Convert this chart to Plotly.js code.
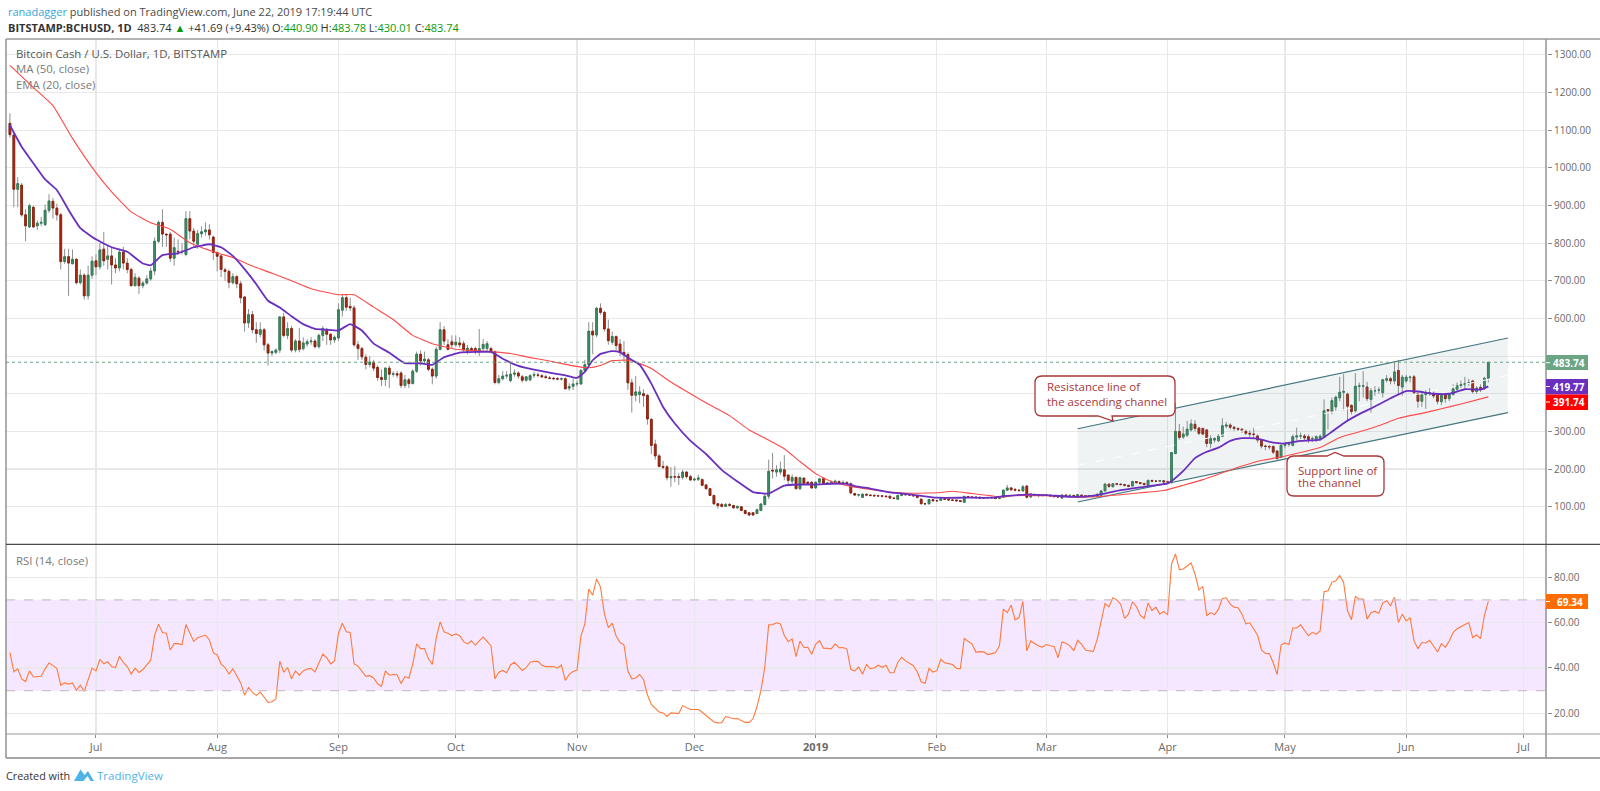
<!DOCTYPE html>
<html><head><meta charset="utf-8">
<script src="https://cdn.plot.ly/plotly-3.0.1.min.js"></script>
<style>html,body{margin:0;padding:0;background:#fff}#c{width:1600px;height:791px}</style>
</head><body><div id="c"></div>
<script>
const firstDay = '2018-06-09';
const opens = [
1118,1087,943,954,875,843,895,846,853,849,887,911,893,875,751,764,745,757,695,715,660,715,
753,737,784,757,766,742,734,776,747,730,687,707,687,694,705,726,805,855,824,824,760,778,777,770,865,832,797,825,830,835,816,
775,766,729,725,695,711,692,657,588,610,570,558,570,530,508,510,516,604,555,573,516,540,520,532,538,540,525,555,570,558,543,
548,622,655,632,628,530,520,497,478,484,470,443,438,468,452,453,455,422,437,427,460,505,487,490,465,447,518,570,530,538,
530,535,533,510,520,520,511,520,520,520,512,430,440,447,435,452,455,445,436,437,449,450,448,445,442,441,440,439,440,415,420,
426,426,462,477,566,556,627,616,572,537,552,532,510,504,429,396,398,400,396,332,266,235,207,206,177,180,180,178,192,180,
171,173,172,158,148,130,108,106,101,106,103,97,100,90,84,84,82,90,106,128,197,192,192,198,184,168,178,148,176,165,165,
150,165,174,162,163,163,167,163,164,161,135,131,125,133,131,130,129,129,128,128,123,120,130,133,132,131,129,120,108,108,119,
116,117,121,120,118,118,116,112,127,126,125,125,123,124,124,124,122,125,144,150,146,144,142,155,126,132,131,130,
130,131,129,127,123,131,129,130,125,131,129,128,129,127,130,142,160,153,161,160,159,157,155,167,164,162,157,170,168,168,169,
166,164,241,300,285,290,304,319,309,308,304,268,277,275,287,314,317,311,308,306,300,295,293,288,277,261,260,260,248,231,
263,266,263,285,288,288,286,280,279,281,284,358,353,365,389,404,399,369,355,420,420,418,385,408,410,403,436,440,434,462,418,
434,443,445,400,380,398,400,401,396,379,398,387,398,412,422,424,428,434,406,417,415,441];
const highs = [
1145,1090,975,960,890,905,900,860,870,903,930,920,905,880,785,785,783,760,730,720,740,765,
770,800,830,795,790,760,785,790,760,735,720,712,700,715,735,815,860,890,825,830,815,810,800,885,885,840,835,845,855,850,820,
778,770,735,730,720,715,700,660,625,620,590,590,575,535,515,520,605,615,590,580,545,575,550,545,550,545,560,580,575,560,555,
640,665,665,655,635,540,525,505,500,490,475,465,470,475,460,460,460,450,442,465,512,515,512,495,470,525,590,580,545,555,
555,550,540,530,525,525,572,545,540,525,515,450,460,460,485,465,460,450,445,452,458,456,452,450,447,445,444,443,443,428,440,
435,465,490,590,590,630,640,620,597,565,555,545,540,510,440,447,420,412,398,335,278,240,222,210,205,208,190,198,195,185,
178,185,175,160,150,132,110,110,110,110,105,103,102,92,85,86,95,110,135,225,243,210,220,237,186,186,180,180,178,168,168,
167,176,178,166,170,172,170,170,168,165,137,134,136,135,134,133,131,131,130,129,125,132,135,135,134,134,130,122,111,121,121,
119,123,122,122,120,119,117,130,129,128,128,127,126,126,127,126,126,146,158,152,150,146,158,158,136,135,134,133,
133,132,130,128,133,133,133,132,134,132,131,131,130,135,144,163,161,163,163,162,161,158,169,168,165,163,172,171,170,171,170,
169,245,375,320,313,328,332,330,312,310,306,290,285,293,335,325,322,315,310,308,305,303,310,292,280,265,265,263,250,265,
270,272,292,310,297,293,292,287,290,292,385,357,390,395,445,452,403,372,455,430,460,432,415,420,418,440,450,445,485,490,450,
450,448,450,403,405,410,415,407,400,400,402,402,425,430,435,445,440,437,420,425,445,484];
const lows = [
1080,895,895,870,805,840,840,835,845,845,880,865,860,730,745,660,745,690,690,650,650,705,
715,730,740,730,690,720,725,730,720,685,685,665,680,690,700,715,800,790,790,750,740,770,770,765,810,790,785,815,820,810,755,
725,710,700,680,690,680,640,565,575,560,535,550,515,475,500,505,508,550,545,510,510,510,515,525,530,520,520,540,530,530,535,
540,605,620,620,525,490,490,465,470,460,435,420,420,415,445,442,415,415,415,425,455,475,480,460,425,440,515,530,515,520,
525,522,510,505,510,505,500,515,512,510,425,425,435,440,430,445,440,430,432,433,442,444,442,440,438,436,436,435,435,408,410,
420,424,460,475,505,550,610,565,530,530,515,500,485,410,350,380,375,365,318,240,225,205,200,170,153,165,158,172,175,168,
168,168,155,145,128,105,95,98,99,100,95,95,88,80,76,76,80,88,103,120,175,180,185,170,160,160,146,145,160,158,148,
148,160,160,158,160,160,160,160,160,133,128,127,124,128,127,127,126,125,124,121,120,118,128,129,128,127,122,106,104,106,113,
113,115,118,116,115,113,112,110,124,123,122,121,121,122,122,120,120,124,142,142,141,140,140,122,124,128,125,127,
128,127,124,123,122,127,127,126,124,127,126,127,126,126,129,141,150,152,157,156,154,152,154,161,159,156,156,165,165,166,163,
162,162,240,278,280,285,300,300,290,290,258,255,270,272,285,308,305,302,300,296,290,285,282,270,255,250,252,240,225,230,
255,260,260,275,280,275,270,272,272,275,282,305,345,355,380,355,330,345,350,380,390,380,350,395,400,390,430,425,425,400,395,
428,430,398,363,365,360,395,388,372,370,376,380,395,408,415,412,420,400,400,405,410,430];
const closes = [
1088,943,958,875,846,899,843,853,855,887,912,893,875,751,764,747,757,695,715,660,715,752,
737,782,753,766,742,734,776,747,730,687,709,687,694,705,726,805,855,824,822,760,788,777,778,865,832,805,825,830,835,822,775,
765,730,725,696,711,692,655,588,610,570,560,570,530,508,512,516,604,555,573,516,540,518,535,538,540,525,555,573,558,543,550,
623,655,630,628,530,520,498,478,484,468,443,438,468,452,453,450,422,437,427,460,505,487,492,465,447,518,570,540,518,530,
537,530,517,521,516,511,520,531,533,512,430,440,447,449,452,455,447,436,445,448,451,449,445,443,441,440,439,440,413,419,426,
427,462,477,566,556,627,616,572,541,552,528,510,504,429,396,405,405,395,333,263,235,207,205,177,180,179,178,192,180,171,
173,176,157,148,130,108,103,101,106,104,97,101,90,82,78,78,92,107,128,194,195,198,200,181,170,178,148,177,162,161,150,
165,174,162,163,165,168,163,164,163,137,131,132,133,131,130,129,129,128,127,123,122,130,133,132,131,129,125,108,108,119,116,
116,121,120,118,117,116,114,127,126,125,125,123,124,124,124,122,124,144,150,145,144,143,153,125,134,131,130,130,
131,129,127,126,131,129,130,128,132,129,128,129,128,133,142,160,154,161,160,159,157,154,167,164,162,159,170,168,168,169,166,
166,244,300,284,293,306,320,308,295,293,268,281,281,288,315,317,311,308,306,302,295,293,292,277,261,260,259,245,228,263,
266,267,286,288,288,283,278,281,286,287,355,355,382,391,404,406,367,353,420,421,421,387,408,408,410,437,440,434,458,422,444,
444,444,403,380,397,400,403,394,380,396,387,398,413,422,424,427,429,406,415,411,441,483.74];

const maDates = ['2018-06-09','2018-06-15','2018-06-20','2018-06-25','2018-07-01','2018-07-05','2018-07-10','2018-07-15','2018-07-20','2018-07-25','2018-08-01','2018-08-05','2018-08-10','2018-08-15','2018-08-20','2018-08-25','2018-09-01','2018-09-05','2018-09-10','2018-09-15','2018-09-20','2018-09-25','2018-10-01','2018-10-05','2018-10-10','2018-10-15','2018-10-20','2018-10-25','2018-10-31','2018-11-04','2018-11-07','2018-11-10','2018-11-14','2018-11-17','2018-11-20','2018-11-25','2018-11-30','2018-12-05','2018-12-10','2018-12-15','2018-12-20','2018-12-24','2018-12-28','2019-01-01','2019-01-05','2019-01-10','2019-01-15','2019-01-20','2019-01-25','2019-02-01','2019-02-05','2019-02-10','2019-02-15','2019-02-18','2019-02-20','2019-03-01','2019-03-10','2019-03-15','2019-03-20','2019-03-25','2019-03-31','2019-04-05','2019-04-10','2019-04-15','2019-04-20','2019-04-25','2019-04-30','2019-05-05','2019-05-10','2019-05-15','2019-05-20','2019-05-25','2019-05-30','2019-06-05','2019-06-10','2019-06-15','2019-06-22'];
const maValues = [1272,1213,1165,1078,987,936,883,854,837,801,774,762,739,720,700,679,663,663,630,597,555,533,518,515,512,507,496,487,474,469,475,488,489,480,467,431,400,370,342,304,277,254,220,188,167,154,146,139,136,137,141,135,129,126,129,129,125,127,132,137,143,157,172,190,208,223,232,244,257,284,299,315,335,348,360,373,391.74];
const emaDates = ['2018-06-09','2018-06-12','2018-06-15','2018-06-18','2018-06-21','2018-06-24','2018-06-27','2018-07-01','2018-07-05','2018-07-09','2018-07-13','2018-07-15','2018-07-18','2018-07-22','2018-07-26','2018-07-30','2018-08-02','2018-08-05','2018-08-08','2018-08-11','2018-08-14','2018-08-17','2018-08-20','2018-08-23','2018-08-26','2018-08-29','2018-09-01','2018-09-04','2018-09-07','2018-09-10','2018-09-14','2018-09-18','2018-09-22','2018-09-25','2018-09-28','2018-10-02','2018-10-06','2018-10-10','2018-10-13','2018-10-17','2018-10-21','2018-10-25','2018-10-29','2018-11-01','2018-11-03','2018-11-05','2018-11-07','2018-11-10','2018-11-12','2018-11-14','2018-11-17','2018-11-20','2018-11-23','2018-11-26','2018-11-30','2018-12-04','2018-12-08','2018-12-12','2018-12-16','2018-12-20','2018-12-24','2018-12-28','2019-01-01','2019-01-05','2019-01-09','2019-01-11','2019-01-15','2019-01-20','2019-01-25','2019-02-01','2019-02-08','2019-02-15','2019-02-18','2019-02-24','2019-03-01','2019-03-08','2019-03-14','2019-03-20','2019-03-26','2019-04-01','2019-04-02','2019-04-05','2019-04-08','2019-04-11','2019-04-14','2019-04-17','2019-04-20','2019-04-24','2019-04-28','2019-05-01','2019-05-05','2019-05-10','2019-05-13','2019-05-16','2019-05-20','2019-05-24','2019-05-28','2019-06-01','2019-06-04','2019-06-08','2019-06-12','2019-06-16','2019-06-20','2019-06-22'];
const emaValues = [1113,1056,1012,969,941,888,840,810,789,777,746,741,768,773,789,797,789,766,731,691,647,629,606,585,572,570,568,585,568,533,509,481,481,477,497,509,511,511,493,474,464,456,449,442,458,489,506,513,510,496,477,427,365,321,275,240,198,167,139,135,156,159,159,161,161,155,148,138,133,124,124,124,128,132,131,126,131,144,153,162,168,195,229,246,257,275,282,281,270,268,275,278,299,322,346,366,388,407,406,400,400,412,411,419.77];
const rsiValues = [
46.7,38.3,39.6,35.2,34,38.7,36,36.2,36.3,39.6,42.2,41,39.8,32.4,33.4,32.9,33.4,30.2,32.4,29.7,35.2,39.9,
38.7,43.8,41.8,42.7,40.6,40.2,45.1,42.4,40.6,37.3,39.9,38,39.3,41.2,43.4,54.4,59.3,55.6,55.3,47.9,50.7,50.7,50.2,59.1,55.6,51.7,53.3,53.8,54.5,52.3,46.7,
45.7,41.7,40.2,37.3,39.6,36.6,33.4,28,31.4,29.2,27.9,29.4,27,24.8,25.1,26.3,43,38.1,40.2,35.2,38.7,36.8,38.7,39.5,39.8,38.3,42.2,46.1,44.5,41.8,43.1,
55.3,59.7,55.9,55.6,41.8,40.8,38.4,36.3,36.6,35.6,33,31.9,38.7,36.8,37.1,37,33.1,36.2,35.5,41.8,50.6,48.5,48.5,44,41.5,53.3,60.3,55.9,55.3,54.2,
55,54.2,51.6,50.6,52,50,51.9,53.6,51.7,49.8,35.2,38.1,38.9,37.9,41.3,42.5,40.7,38.9,40.1,42.5,42.9,42.9,41.2,40.6,40.6,40.6,39.9,41.3,34.5,37.2,38.4,
39.1,54.1,59.3,74.8,72.1,79.2,75.6,63.8,57.8,59.7,54.1,51.2,50.2,38.6,35.2,35.6,37.1,34.9,28.2,23.9,22.1,20.6,20.2,18.6,20.2,20,19.9,23.4,22.4,21.7,
21.7,21.7,20.5,19,17.6,16.2,15.8,15.9,18.6,18.1,17.6,17.7,16.7,16,16,17.6,22.9,29.9,40.2,59,59.1,59.9,59.4,54.3,51.6,52.8,45,51.8,49,49.1,46,
50.4,52,48.7,48.6,48.4,50.6,48.9,49,48.3,39.4,38.7,40.4,37.2,41.5,39.7,40,41.2,40.3,41.2,37.9,37.9,42.4,44.7,43.1,42.1,41,38.2,33.8,33.2,39.8,38.2,
38.8,43.8,42.3,41.9,41.5,39.8,39.7,53,51.9,50.5,46.9,47.2,47.1,45.9,46.3,46.8,49.7,65.9,64.4,67.7,61.2,62.2,69.3,47.5,51.9,50.9,49.7,49.2,
50.3,49.8,49.4,44.5,51.4,50.9,49.7,47.6,52.2,50.4,47.9,47.5,47.3,52.6,60,68.4,66.9,70.9,70,68.1,61.8,63.7,69.1,67.1,63.2,61.8,68.6,65.3,66.8,63.7,64.9,
63.4,85.8,90.2,83.3,83.6,84.9,86.3,81.4,74.3,75.9,63,64.4,63.4,65.9,70.6,70.9,68.1,66.8,66.5,63.7,59.4,59.9,57,54.4,47.9,46.4,46.3,42.3,37.1,50.1,
51,50.3,57.6,57.6,59,56.6,54.2,55.7,54.8,56.3,73.6,74,77.7,78.4,80.7,77.7,65.2,61.2,71.5,70.3,70.3,61.5,64.4,64.9,64.1,68.6,69.6,67.4,71.1,60,63.7,
60.7,62.2,51.9,48.5,51.2,51,52.2,49.7,47,50.7,49.1,51.9,55.6,57.3,58.2,59.1,60,53.4,54.5,52.9,63.2,69.34];

const channelDates = ['2019-03-09','2019-06-27'];
const channelUpper = [307,548];
const channelLower = [112.5,350];
const channelMiddle = [209.75,449];
const priceTicks = [100,200,300,400,500,600,700,800,900,1000,1100,1200,1300];
const priceLabels = ['100.00','200.00','300.00','','','600.00','700.00','800.00','900.00','1000.00','1100.00','1200.00','1300.00'];
const rsiTicks = [20,40,60,80];
const rsiLabels = ['20.00','40.00','60.00','80.00'];
const monthTicks = ['2018-07-01','2018-08-01','2018-09-01','2018-10-01','2018-11-01','2018-12-01','2019-01-01','2019-02-01','2019-03-01','2019-04-01','2019-05-01','2019-06-01','2019-07-01'];
const monthLabels = ['Jul','Aug','Sep','Oct','Nov','Dec','<b>2019</b>','Feb','Mar','Apr','May','Jun','Jul'];

const days = closes.map((_, i) => new Date(Date.parse(firstDay) + i * 864e5).toISOString().slice(0, 10));
const F = '"Open Sans", sans-serif';
const px = X => (X - 6) / 1541, py = Y => (734 - Y) / 695;
const up = '#3f9068', upEdge = '#2b7a52', dn = '#b3280e', dnEdge = '#8e1c08', wick = '#8f8f8f';

const traces = [
 {type:'scatter',mode:'lines',x:[channelDates[0],channelDates[1],channelDates[1],channelDates[0]],y:[channelUpper[0],channelUpper[1],channelLower[1],channelLower[0]],fill:'toself',fillcolor:'rgba(120,144,156,0.11)',line:{width:0},hoverinfo:'skip',xaxis:'x',yaxis:'y'},
 {type:'scatter',mode:'lines',x:channelDates,y:channelMiddle,line:{color:'#ffffff',width:1,dash:'dash'},xaxis:'x',yaxis:'y'},
 {type:'scatter',mode:'lines',x:channelDates,y:channelUpper,line:{color:'#43777f',width:1.2},xaxis:'x',yaxis:'y'},
 {type:'scatter',mode:'lines',x:channelDates,y:channelLower,line:{color:'#43777f',width:1.2},xaxis:'x',yaxis:'y'},
 {type:'candlestick',x:days,open:opens,high:highs,low:lows,close:closes,whiskerwidth:0,
  increasing:{line:{color:wick,width:1},fillcolor:up},decreasing:{line:{color:wick,width:1},fillcolor:dn},xaxis:'x',yaxis:'y'},
 {type:'candlestick',x:days,open:opens,close:closes,
  high:opens.map((o,i)=>Math.max(o,closes[i])),low:opens.map((o,i)=>Math.min(o,closes[i])),whiskerwidth:0,
  increasing:{line:{color:upEdge,width:0.8},fillcolor:up},decreasing:{line:{color:dnEdge,width:0.8},fillcolor:dn},xaxis:'x',yaxis:'y'},
 {type:'scatter',mode:'lines',x:maDates,y:maValues,line:{color:'#ff4a4a',width:1.1,shape:'spline',smoothing:0.4},xaxis:'x',yaxis:'y'},
 {type:'scatter',mode:'lines',x:emaDates,y:emaValues,line:{color:'#6a2fbf',width:1.8,shape:'spline',smoothing:0.4},xaxis:'x',yaxis:'y'},
 {type:'scatter',mode:'lines',x:days,y:rsiValues,line:{color:'#ff7a3c',width:1.1},xaxis:'x',yaxis:'y2'}
];

const seg = (x0,y0,x1,y1,color,width,dash) => ({type:'line',xref:'paper',yref:'paper',x0:px(x0),y0:py(y0),x1:px(x1),y1:py(y1),line:{color,width:width||1,dash:dash||'solid'}});
const box = (x0,y0,x1,y1,color) => ({type:'rect',xref:'paper',yref:'paper',x0:px(x0),y0:py(y0),x1:px(x1),y1:py(y1),fillcolor:color,line:{width:0}});
function callout(L,T,R,B,r,tail){
 const P=(X,Y)=>px(X)+','+py(Y);
 let d='M'+P(L+r,T);
 if(tail.side==='top') d+=' L'+P(tail.a,T)+' L'+P(tail.x,tail.y)+' L'+P(tail.b,T);
 d+=' L'+P(R-r,T)+' Q'+P(R,T)+' '+P(R,T+r)+' L'+P(R,B-r)+' Q'+P(R,B)+' '+P(R-r,B);
 if(tail.side==='bottom') d+=' L'+P(tail.b,B)+' L'+P(tail.x,tail.y)+' L'+P(tail.a,B);
 d+=' L'+P(L+r,B)+' Q'+P(L,B)+' '+P(L,B-r)+' L'+P(L,T+r)+' Q'+P(L,T)+' '+P(L+r,T)+' Z';
 return {type:'path',xref:'paper',yref:'paper',path:d,fillcolor:'#ffffff',line:{color:'#a8383a',width:1.3}};
}
const P2=(X,Y)=>px(X)+','+py(Y);
const logo = {type:'path',xref:'paper',yref:'paper',fillcolor:'#4fb3e8',line:{width:0},
 path:'M'+P2(74,781)+' L'+P2(80.5,769.5)+' L'+P2(84.5,775)+' L'+P2(88,771)+' L'+P2(94,781)+' L'+P2(90.5,781)+' L'+P2(87.5,776)+' L'+P2(83.5,781)+' Z'};
const shapes = [
 {type:'rect',xref:'paper',yref:'y2',x0:0,x1:1,y0:30,y1:70,fillcolor:'rgba(153,21,255,0.10)',line:{width:0},layer:'below'},
 {type:'line',xref:'paper',yref:'y2',x0:0,x1:1,y0:70,y1:70,line:{color:'#c9c2cc',width:1.2,dash:'dash'}},
 {type:'line',xref:'paper',yref:'y2',x0:0,x1:1,y0:30,y1:30,line:{color:'#c9c2cc',width:1.2,dash:'dash'}},
 {type:'line',xref:'paper',yref:'y',x0:0,x1:1,y0:closes[closes.length-1],y1:closes[closes.length-1],line:{color:'#6ba583',width:1,dash:'dot'}},
 seg(6,39,1600,39,'#9a9a9a',1.4),
 seg(6,39,6,758,'#8a8a8a',1.4),
 seg(6,758,1600,758,'#8a8a8a',1.4),
 seg(1546,39,1546,758,'#9a9a9a',1.6),
 seg(6,544.3,1600,544.3,'#4a4a4a',1.2),
 seg(6,734,1600,734,'#9a9a9a',1.2),
 callout(1035,376,1175,416,7,{side:'bottom',a:1098,b:1112,x:1113,y:421}),
 callout(1287,456,1384,496,7,{side:'top',a:1327,b:1344,x:1335,y:452.5}),
 box(1546,355,1588,370,'#6ba583'),
 box(1546,379,1588,394.5,'#6a2fbf'),
 box(1546,394.5,1588,410,'#ff0000'),
 box(1546,594,1588,609,'#ff6d00'),
 seg(1546,362.7,1550,362.7,'#ffffff',1),
 seg(1546,386.5,1550,386.5,'#ffffff',1),
 seg(1546,402,1550,402,'#ffffff',1),
 seg(1546,601.5,1550,601.5,'#ffffff',1),
 logo
];
const note = (X,Y,text,size,color,extra) => Object.assign({xref:'paper',yref:'paper',x:px(X),y:py(Y),xanchor:'left',yanchor:'middle',align:'left',showarrow:false,text,font:{family:F,size,color}},extra||{});
const annotations = [
 note(6,11,'<span style="color:#37a6d8">ranadagger</span> published on TradingView.com, June 22, 2019 17:19:44 UTC',11,'#4a4a4a'),
 note(6,27,'<b>BITSTAMP:BCHUSD, 1D</b>&nbsp; 483.74 <span style="color:#0a9a0a">▲</span> +41.69 (+9.43%) O:<span style="color:#0a9a0a">440.90</span> H:<span style="color:#0a9a0a">483.78</span> L:<span style="color:#0a9a0a">430.01</span> C:<span style="color:#0a9a0a">483.74</span>',11,'#333333'),
 note(14,54,'Bitcoin Cash / U.S. Dollar, 1D, BITSTAMP',11.4,'#555555'),
 note(14,69,'MA (50, close)',11.4,'#7a7a7a'),
 note(14,84,'EMA (20, close)',11.4,'#7a7a7a'),
 note(14,560,'RSI (14, close)',11.4,'#7a7a7a'),
 note(1045,387,'Resistance line of',11.5,'#a8383a'),
 note(1045,401,'the ascending channel',11.5,'#a8383a'),
 note(1296,470,'Support line of',11.5,'#a8383a'),
 note(1296,482,'the channel',11.5,'#a8383a'),
 note(1551,362.7,'<b>483.74</b>',10,'#ffffff'),
 note(1551,386.7,'<b>419.77</b>',10,'#ffffff'),
 note(1551,402.2,'<b>391.74</b>',10,'#ffffff'),
 note(1555,601.5,'<b>69.34</b>',10,'#ffffff'),
 note(4,775,'Created with',10.8,'#333333'),
 note(95,775,'TradingView',11.5,'#4fb3e8')
];
const tick = {family:F,size:10,color:'#6a6a6a'};
const xtick = {family:F,size:11,color:'#6a6a6a'};
const layout = {
 width:1600,height:791,margin:{l:6,r:53,t:39,b:57},paper_bgcolor:'#fff',plot_bgcolor:'#fff',showlegend:false,
 boxgap:0.35,
 xaxis:{type:'date',range:['2018-06-08','2019-07-07'],domain:[0,1],anchor:'y2',tickmode:'array',tickvals:monthTicks,ticktext:monthLabels,
  showgrid:true,gridcolor:'#e8e8e8',gridwidth:1.2,ticks:'outside',ticklen:3,tickcolor:'#888',tickfont:xtick,showline:false,zeroline:false,rangeslider:{visible:false}},
 yaxis:{domain:[190/695,1],range:[1.06,1342],side:'right',anchor:'x',tickmode:'array',tickvals:priceTicks,ticktext:priceLabels,showgrid:true,gridcolor:'#e8e8e8',gridwidth:1.2,
  ticks:'outside',ticklen:4,tickcolor:'#888',tickfont:tick,zeroline:false,showline:false},
 yaxis2:{domain:[0,190/695],range:[10.9,94.6],side:'right',anchor:'x',tickmode:'array',tickvals:rsiTicks,ticktext:rsiLabels,showgrid:true,gridcolor:'#e8e8e8',gridwidth:1.2,
  ticks:'outside',ticklen:4,tickcolor:'#888',tickfont:tick,zeroline:false,showline:false},
 shapes,annotations
};
Plotly.newPlot('c',traces,layout,{staticPlot:true,displayModeBar:false});
</script></body></html>
